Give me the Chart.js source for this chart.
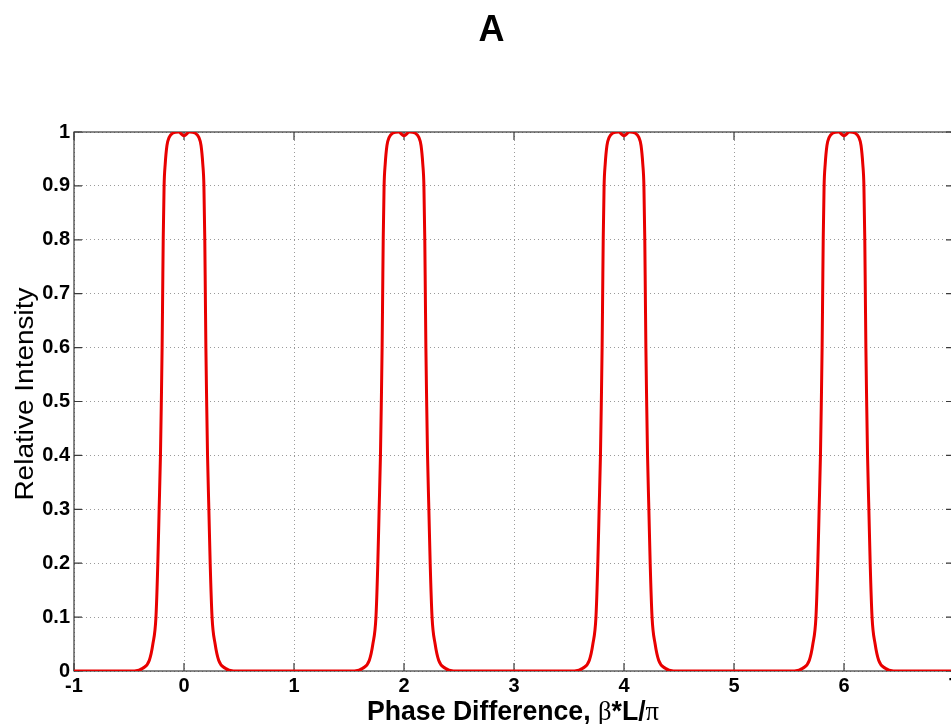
<!DOCTYPE html>
<html>
<head>
<meta charset="utf-8">
<script src="https://cdn.jsdelivr.net/npm/chart.js@4/dist/chart.umd.min.js"></script>
<style>
  html, body { margin: 0; padding: 0; background: #fff; overflow: hidden; width: 951px; height: 724px; }
  #c { display: block; }
</style>
</head>
<body>
<canvas id="c" width="983" height="724"></canvas>
<script>
// ---- data ----
const chartTitle = 'A';
const yAxisTitle = 'Relative Intensity';
const xAxisTitleParts = [
  { text: 'Phase Difference, ', serif: false },
  { text: 'β', serif: true },
  { text: '*L/', serif: false },
  { text: 'π', serif: true }
];
const xTickLabels = ['-1', '0', '1', '2', '3', '4', '5', '6', '7'];
const yTickLabels = ['0', '0.1', '0.2', '0.3', '0.4', '0.5', '0.6', '0.7', '0.8', '0.9', '1'];

const phaseValues = [
  -1,
  -0.45, -0.375, -0.315, -0.283, -0.255, -0.238, -0.226, -0.214, -0.206, -0.199, -0.194, -0.189, -0.181, -0.171, -0.155, -0.135, -0.1, -0.05,
  0, 0.05, 0.1, 0.135, 0.155, 0.171, 0.181, 0.189, 0.194, 0.199, 0.206, 0.214, 0.226, 0.238, 0.255, 0.283, 0.315, 0.375, 0.45,
  1.55, 1.625, 1.685, 1.717, 1.745, 1.762, 1.774, 1.786, 1.794, 1.801, 1.806, 1.811, 1.819, 1.829, 1.845, 1.865, 1.9, 1.95,
  2, 2.05, 2.1, 2.135, 2.155, 2.171, 2.181, 2.189, 2.194, 2.199, 2.206, 2.214, 2.226, 2.238, 2.255, 2.283, 2.315, 2.375, 2.45,
  3.55, 3.625, 3.685, 3.717, 3.745, 3.762, 3.774, 3.786, 3.794, 3.801, 3.806, 3.811, 3.819, 3.829, 3.845, 3.865, 3.9, 3.95,
  4, 4.05, 4.1, 4.135, 4.155, 4.171, 4.181, 4.189, 4.194, 4.199, 4.206, 4.214, 4.226, 4.238, 4.255, 4.283, 4.315, 4.375, 4.45,
  5.55, 5.625, 5.685, 5.717, 5.745, 5.762, 5.774, 5.786, 5.794, 5.801, 5.806, 5.811, 5.819, 5.829, 5.845, 5.865, 5.9, 5.95,
  6, 6.05, 6.1, 6.135, 6.155, 6.171, 6.181, 6.189, 6.194, 6.199, 6.206, 6.214, 6.226, 6.238, 6.255, 6.283, 6.315, 6.375, 6.45,
  7
];
const intensityValues = [
  0,
  0, 0.005, 0.02, 0.05, 0.1, 0.2, 0.3, 0.4, 0.5, 0.6, 0.7, 0.8, 0.9, 0.94, 0.975, 0.99, 0.998, 1,
  0.993, 1, 0.998, 0.99, 0.975, 0.94, 0.9, 0.8, 0.7, 0.6, 0.5, 0.4, 0.3, 0.2, 0.1, 0.05, 0.02, 0.005, 0,
  0, 0.005, 0.02, 0.05, 0.1, 0.2, 0.3, 0.4, 0.5, 0.6, 0.7, 0.8, 0.9, 0.94, 0.975, 0.99, 0.998, 1,
  0.993, 1, 0.998, 0.99, 0.975, 0.94, 0.9, 0.8, 0.7, 0.6, 0.5, 0.4, 0.3, 0.2, 0.1, 0.05, 0.02, 0.005, 0,
  0, 0.005, 0.02, 0.05, 0.1, 0.2, 0.3, 0.4, 0.5, 0.6, 0.7, 0.8, 0.9, 0.94, 0.975, 0.99, 0.998, 1,
  0.993, 1, 0.998, 0.99, 0.975, 0.94, 0.9, 0.8, 0.7, 0.6, 0.5, 0.4, 0.3, 0.2, 0.1, 0.05, 0.02, 0.005, 0,
  0, 0.005, 0.02, 0.05, 0.1, 0.2, 0.3, 0.4, 0.5, 0.6, 0.7, 0.8, 0.9, 0.94, 0.975, 0.99, 0.998, 1,
  0.993, 1, 0.998, 0.99, 0.975, 0.94, 0.9, 0.8, 0.7, 0.6, 0.5, 0.4, 0.3, 0.2, 0.1, 0.05, 0.02, 0.005, 0,
  0
];

// ---- chart ----
const SANS = '"Liberation Sans", Arial, Helvetica, sans-serif';
const SERIF = '"Liberation Serif", "Times New Roman", serif';
const points = phaseValues.map((x, i) => ({ x: x, y: intensityValues[i] }));

const decorPlugin = {
  id: 'decor',
  beforeDatasetsDraw(chart) {
    const ctx = chart.ctx;
    const a = chart.chartArea;
    const xs = chart.scales.x, ys = chart.scales.y;
    ctx.save();
    ctx.strokeStyle = '#3a3a3a';
    ctx.lineWidth = 1.2;
    ctx.strokeRect(a.left, a.top, a.right - a.left, a.bottom - a.top);
    ctx.beginPath();
    const tl = 8;
    xs.ticks.forEach(t => {
      const px = xs.getPixelForValue(t.value);
      ctx.moveTo(px, a.bottom); ctx.lineTo(px, a.bottom - tl);
      ctx.moveTo(px, a.top); ctx.lineTo(px, a.top + tl);
    });
    ys.ticks.forEach(t => {
      const py = ys.getPixelForValue(t.value);
      ctx.moveTo(a.left, py); ctx.lineTo(a.left + tl, py);
      ctx.moveTo(a.right, py); ctx.lineTo(a.right - tl, py);
    });
    ctx.stroke();
    ctx.restore();
  },
  afterDraw(chart) {
    const ctx = chart.ctx;
    ctx.save();
    ctx.fillStyle = '#000';
    // title
    ctx.font = 'bold 36px ' + SANS;
    ctx.textAlign = 'center';
    ctx.textBaseline = 'alphabetic';
    ctx.fillText(chartTitle, 491.5, 41);

    // y axis title
    ctx.save();
    ctx.font = '28px ' + SANS;
    ctx.translate(33, 394);
    ctx.rotate(-Math.PI / 2);
    ctx.scale(1, 0.93);
    ctx.textAlign = 'center';
    ctx.fillText(yAxisTitle, 0, 0);
    ctx.restore();

    // x axis title (mixed fonts)
    const fontFor = p => p.serif ? '28px ' + SERIF : 'bold 28px ' + SANS;
    let total = 0;
    const widths = xAxisTitleParts.map(p => { ctx.font = fontFor(p); const w = ctx.measureText(p.text).width; total += w; return w; });
    const targetWidth = 292;
    const sx = targetWidth / total;
    ctx.save();
    ctx.translate(513 - targetWidth / 2, 720);
    ctx.scale(sx, 1);
    ctx.textAlign = 'left';
    let xpos = 0;
    xAxisTitleParts.forEach((p, i) => {
      ctx.font = fontFor(p);
      ctx.fillText(p.text, xpos, 0);
      xpos += widths[i];
    });
    ctx.restore();
    ctx.restore();
  }
};

new Chart(document.getElementById('c'), {
  type: 'line',
  data: {
    datasets: [{
      data: points,
      borderColor: '#e80000',
      borderWidth: 3,
      pointRadius: 0,
      fill: false,
      cubicInterpolationMode: 'monotone'
    }]
  },
  options: {
    responsive: false,
    animation: false,
    events: [],
    layout: { padding: { left: 0, top: 132, right: 29, bottom: 0 } },
    plugins: { legend: { display: false }, tooltip: { enabled: false }, title: { display: false } },
    scales: {
      x: {
        type: 'linear',
        min: -1, max: 7,
        afterFit: s => { s.height = 53; },
        ticks: {
          stepSize: 1, autoSkip: false, maxRotation: 0, padding: 3,
          color: '#000', font: { family: SANS, size: 20, weight: 'bold' },
          callback: (v, i) => xTickLabels[i]
        },
        grid: { color: '#9a9a9a', lineWidth: 1, drawTicks: false },
        border: { display: false, dash: [1, 3] }
      },
      y: {
        min: 0, max: 1,
        afterFit: s => { s.width = 74; },
        ticks: {
          stepSize: 0.1, autoSkip: false, padding: 4,
          color: '#000', font: { family: SANS, size: 20, weight: 'bold' },
          callback: (v, i) => yTickLabels[i]
        },
        grid: { color: '#9a9a9a', lineWidth: 1, drawTicks: false },
        border: { display: false, dash: [1, 3] }
      }
    }
  },
  plugins: [decorPlugin]
});
</script>
</body>
</html>
